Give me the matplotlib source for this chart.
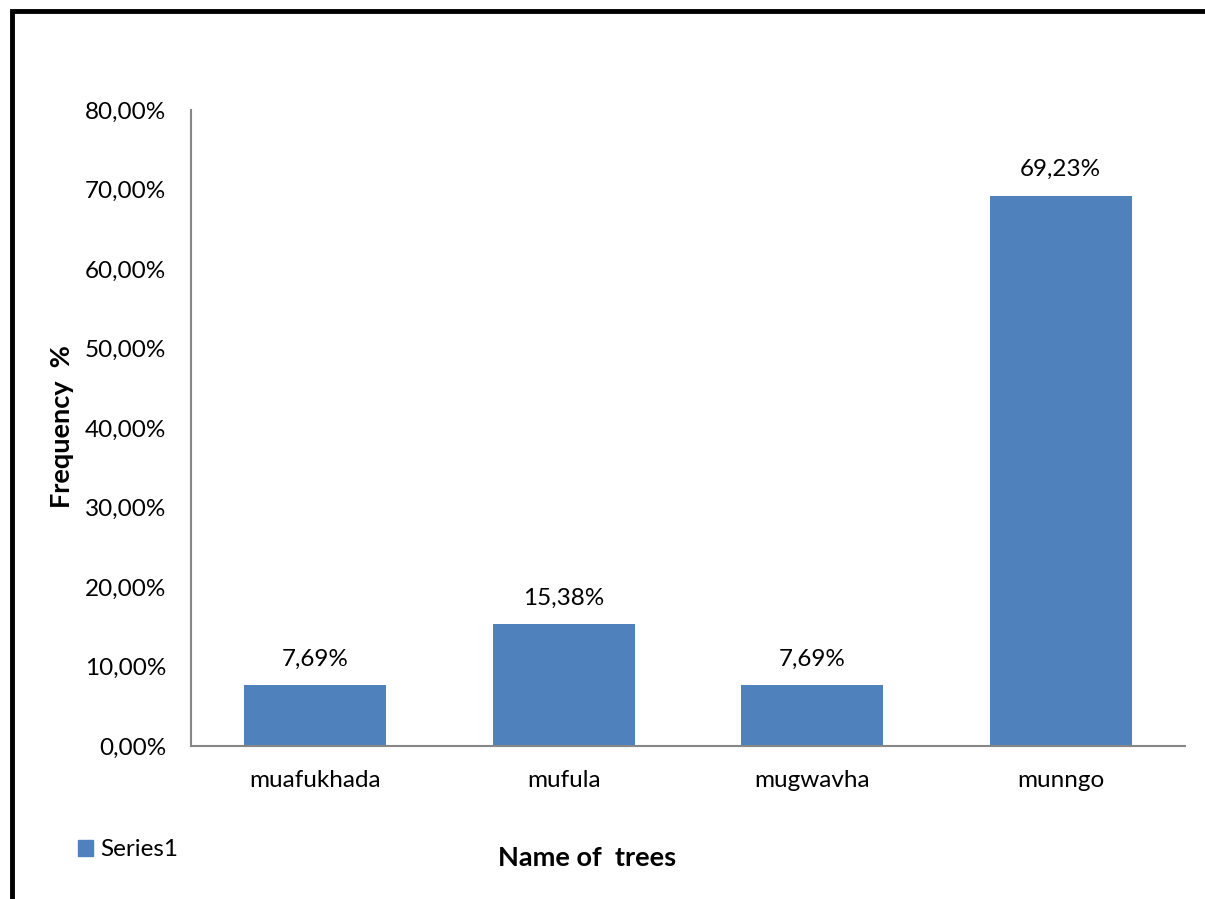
import matplotlib
matplotlib.use("Agg")
import matplotlib.pyplot as plt
from matplotlib.patches import Rectangle, Patch
from matplotlib.ticker import FuncFormatter, MultipleLocator

categories = ["muafukhada", "mufula", "mugwavha", "munngo"]
values = [7.69, 15.38, 7.69, 69.23]
bar_color = "#4F81BD"
spine_color = "#868686"

plt.rcParams["font.family"] = ["Lato", "DejaVu Sans"]

W, H = 1205, 899
fig = plt.figure(figsize=(W / 100, H / 100), dpi=100)

ax = fig.add_axes([191 / W, 1 - 746 / H, (1185 - 191) / W, (746 - 110) / H])
x = range(len(categories))
ax.bar(x, values, width=0.57, color=bar_color, zorder=2)
ax.set_xlim(-0.5, len(categories) - 0.5)
ax.set_ylim(0, 80)
ax.yaxis.set_major_locator(MultipleLocator(10))
ax.yaxis.set_major_formatter(FuncFormatter(lambda v, p: f"{v:.2f}%".replace(".", ",")))
ax.set_xticks(list(x))
ax.set_xticklabels(categories)
ax.tick_params(axis="both", length=0, labelsize=17.5, colors="black")
ax.tick_params(axis="y", pad=18)
ax.tick_params(axis="x", pad=17)

for side in ("top", "right"):
    ax.spines[side].set_visible(False)
for side in ("left", "bottom"):
    ax.spines[side].set_color(spine_color)
    ax.spines[side].set_linewidth(1.5)

for xi, v in zip(x, values):
    ax.annotate(f"{v:.2f}%".replace(".", ","), (xi, v), xytext=(0, 11),
                textcoords="offset points", ha="center", va="bottom", fontsize=17.5)

fig.text(62 / W, 1 - 427 / H, "Frequency  %", rotation=90, ha="center", va="center",
         fontsize=19.5, fontweight="bold")
fig.text(587 / W, 1 - 858 / H, "Name of  trees", ha="center", va="center",
         fontsize=19.5, fontweight="bold")

fig.legend(handles=[Patch(color=bar_color, label="Series1")],
           loc="center left", bbox_to_anchor=(61 / W, 1 - 850 / H), frameon=False,
           fontsize=17.5, handlelength=0.6, handleheight=0.6, handletextpad=0.3,
           borderpad=0.2)

# chart frame
fig.patches.append(Rectangle((12 / W, -0.1), 1.2, 1 - 11 / H + 0.1, transform=fig.transFigure,
                             fill=False, edgecolor="black", linewidth=3.5, zorder=10))

fig.savefig("out.png", dpi=100, facecolor="white")
